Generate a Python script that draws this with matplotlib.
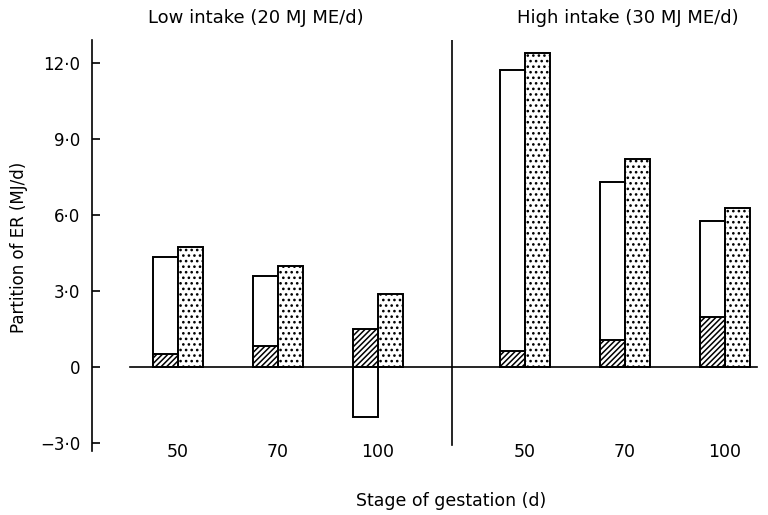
import numpy as np
import matplotlib
matplotlib.use("Agg")
import matplotlib.pyplot as plt

# ---- data (MJ/d) ----
stages = ["50", "70", "100"]
groups = ["Low intake (20 MJ ME/d)", "High intake (30 MJ ME/d)"]
low_open = [4.34, 3.60, -1.95]
low_hatched = [0.51, 0.83, 1.50]
low_dotted = [4.74, 4.00, 2.88]
high_open = [11.70, 7.30, 5.76]
high_hatched = [0.63, 1.07, 2.00]
high_dotted = [12.40, 8.20, 6.28]
yticks = [-3.0, 0, 3.0, 6.0, 9.0, 12.0]
ytick_labels = ["\u22123\u00b70", "0", "3\u00b70", "6\u00b70", "9\u00b70", "12\u00b70"]

plt.rcParams['font.family'] = ['DejaVu Sans']
plt.rcParams['hatch.linewidth'] = 1.1

W, H = 768, 515
fig = plt.figure(figsize=(W / 100, H / 100), dpi=100)
left, right, top, bottom = 92, 768, 40, 451
ax = fig.add_axes([left / W, 1 - bottom / H, (right - left) / W, (bottom - top) / H])

bw = 0.25
gap = 1.47
x_low = np.arange(len(stages), dtype=float)
x_high = np.arange(len(stages), dtype=float) + len(stages) - 1 + gap

for xs, op, ha, do in [(x_low, low_open, low_hatched, low_dotted),
                       (x_high, high_open, high_hatched, high_dotted)]:
    ax.bar(xs - bw / 2, op, width=bw, facecolor='white', edgecolor='black', linewidth=1.4, zorder=2)
    ax.bar(xs - bw / 2, ha, width=bw, facecolor='white', edgecolor='black', hatch='//////', linewidth=1.4, zorder=3)
    ax.bar(xs + bw / 2, do, width=bw, facecolor='white', edgecolor='black', hatch='...', linewidth=1.4, zorder=2)

ax.set_xlim(-0.86, 5.9)
ax.set_ylim(-3.3, 12.9)

ax.axhline(0, xmin=(130 - left) / (right - left), xmax=(757 - left) / (right - left), color='black', lw=1.2, zorder=4)
ax.axvline(2.74, ymin=0.015, ymax=1.0, color='black', lw=1.2)

for s in ['top', 'right', 'bottom']:
    ax.spines[s].set_visible(False)
ax.spines['left'].set_linewidth(1.2)

ax.set_yticks(yticks)
ax.set_yticklabels(ytick_labels, fontsize=12)
ax.tick_params(axis='y', direction='in', length=6, width=1.2, pad=8.5)

ax.set_xticks(np.concatenate([x_low, x_high]))
ax.set_xticklabels(stages + stages, fontsize=12.5)
ax.tick_params(axis='x', length=0, pad=-6)

fig.text(451 / W, 1 - 501 / H, "Stage of gestation (d)", ha='center', va='center', fontsize=12.5)
fig.text(19 / W, 1 - 247 / H, "Partition of ER (MJ/d)", ha='center', va='center', rotation=90, fontsize=12)
fig.text(256 / W, 1 - 18 / H, groups[0], ha='center', va='center', fontsize=13)
fig.text(628 / W, 1 - 18 / H, groups[1], ha='center', va='center', fontsize=13)

fig.savefig("out.png", dpi=100)
